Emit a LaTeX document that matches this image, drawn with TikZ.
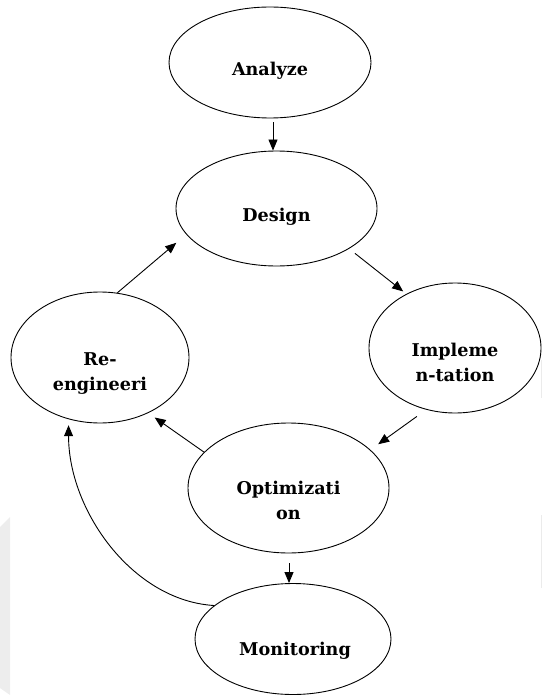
\documentclass[tikz,border=0pt]{standalone}
\usepackage{fontspec}
\setmainfont{DejaVu Serif}
\usetikzlibrary{arrows.meta,shapes.geometric}
\begin{document}
\begin{tikzpicture}[x=1pt,y=-1pt,
  state/.style={draw, ellipse, line width=0.9pt, inner sep=0pt},
  lbl/.style={font=\fontsize{17.6}{25}\selectfont\bfseries, align=center, anchor=base, inner sep=0pt},
  arr/.style={-{Triangle[length=11pt,width=9pt]}, line width=0.9pt}]
\useasboundingbox (0,0) rectangle (542,695);
% faint page artefacts
\fill[black!7] (0,527) -- (10,517) -- (10,695) -- (0,688) -- cycle;
\draw[black!8, line width=1pt] (541,360) -- (541,398);
\draw[black!8, line width=1pt] (541,515) -- (541,588);
% ellipses
\node[state, minimum width=202pt, minimum height=111pt] (an) at (270,62.5) {};
\node[state, minimum width=201pt, minimum height=115pt] (de) at (276.5,208.5) {};
\node[state, minimum width=178pt, minimum height=131pt] (re) at (100,357.5) {};
\node[state, minimum width=172pt, minimum height=130pt] (im) at (455,348) {};
\node[state, minimum width=201pt, minimum height=130pt] (op) at (288.5,488) {};
\node[state, minimum width=196pt, minimum height=111pt] (mo) at (293,639) {};
% labels (base = baseline of the last line)
\node[lbl] (antxt) at (270,76) {Analyze};
\node[lbl] (detxt) at (276.5,221) {Design};
\node[lbl] (retxt) at (100,390) {Re-\\engineeri};
\node[lbl] (imtxt) at (455,381) {Impleme\\n-tation};
\node[lbl] (optxt) at (288.5,519) {Optimizati\\on};
\node[lbl] (motxt) at (295,655) {Monitoring};
% connectors
\draw[arr, shorten <=4pt] ([xshift=3pt]an.south) -- ([xshift=3pt]an.south |- de.north);
\draw[arr, shorten >=13pt] (re.75) -- (de.196);
\draw[arr, shorten <=7.5pt, shorten >=4pt] (de.331) -- (im.132);
\draw[arr, shorten <=11.5pt, shorten >=9.5pt] (im.245) -- (op.25.6);
\draw[arr, shorten >=7.8pt] (op.157.7) -- (re.311.7);
\draw[arr, shorten <=10pt] ([xshift=0.5pt]op.south) -- ([xshift=0.5pt]op.south |- mo.north);
\draw[arr, shorten >=6pt] (mo.157) .. controls +(-82,-5) and +(0,91) .. (re.243);
\end{tikzpicture}
\end{document}
